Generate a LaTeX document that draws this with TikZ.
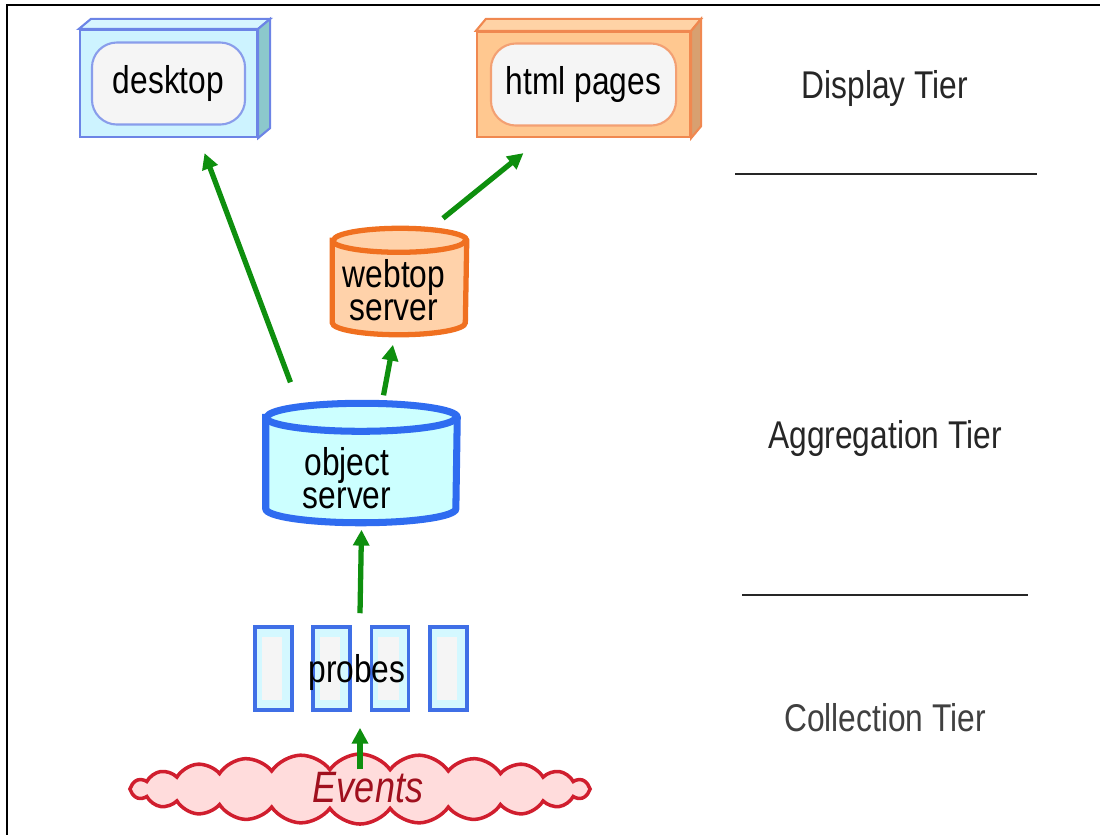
\documentclass[tikz,border=0pt]{standalone}
\usepackage{fontspec}
\setmainfont{Liberation Sans}[FakeStretch=0.82]
\usepackage{tikz}
\usetikzlibrary{shapes.geometric, shapes.symbols, arrows.meta, positioning, calc}

\definecolor{deskfront}{HTML}{CDF3FF}
\definecolor{deskline}{HTML}{6C84E6}
\definecolor{deskside}{HTML}{8CC8CC}
\definecolor{htmlfront}{HTML}{FFC890}
\definecolor{htmlline}{HTML}{F08850}
\definecolor{htmlside}{HTML}{D8A070}
\definecolor{webfill}{HTML}{FFD2AA}
\definecolor{webline}{HTML}{F07020}
\definecolor{objfill}{HTML}{CCFFFF}
\definecolor{objline}{HTML}{2F6CF0}
\definecolor{probefill}{HTML}{D4F8FF}
\definecolor{probeline}{HTML}{3F6FE6}
\definecolor{cloudfill}{HTML}{FFDCDC}
\definecolor{cloudline}{HTML}{D01E2E}
\definecolor{eventtext}{HTML}{A0101E}
\definecolor{flowgreen}{HTML}{0E8F0E}

\tikzstyle{frontbox} = [rectangle, line width=0.6pt, inner sep=0pt]
\tikzstyle{innerbox} = [rectangle, rounded corners=2.5mm, fill=black!4,
  line width=0.6pt, font=\fontsize{11}{13}\selectfont]
\tikzstyle{dbbody} = [rectangle, inner sep=0pt]
\tikzstyle{dblabel} = [align=center, inner sep=0pt, font=\fontsize{11}{9.5}\selectfont]
\tikzstyle{probebox} = [rectangle, draw=probeline, fill=probefill, line width=1pt,
  minimum width=0.37cm, minimum height=0.83cm, inner sep=0pt,
  path picture={\fill[black!4] ([shift={(0.07cm,0.1cm)}]path picture bounding box.south west)
    rectangle ([shift={(-0.1cm,-0.1cm)}]path picture bounding box.north east);}]
\tikzstyle{flow} = [-{Triangle[length=4.5pt, width=4.5pt]}, line width=1.5pt, flowgreen]
\tikzstyle{tierline} = [line width=0.6pt, black!85]
\tikzstyle{tierlabel} = [font=\fontsize{11}{13}\selectfont, text=black!85]

\begin{document}
\begin{tikzpicture}[x=0.01cm, y=-0.01cm]
  \useasboundingbox (0,0) rectangle (1100,835);

  % Frame
  \draw[line width=0.7pt] (1100,5) -- (7,5) -- (7,835);

  % Display boxes
  \node[frontbox, fill=deskfront, draw=deskline, minimum width=1.77cm, minimum height=1.07cm]
    (desk) at (168.5,83.5) {};
  \filldraw[fill=deskfront!80, draw=deskline, line width=0.6pt]
    (desk.north west) -- ++(12,-10) -- ([shift={(12,-10)}]desk.north east) -- (desk.north east) -- cycle;
  \filldraw[fill=deskside, draw=deskline, line width=0.6pt]
    (desk.north east) -- ++(12,-10) -- ([shift={(12,-10)}]desk.south east) -- (desk.south east) -- cycle;
  \node[innerbox, draw=deskline!80, minimum width=1.53cm, minimum height=0.82cm]
    (desktop) at (desk.center) {desktop};

  \node[frontbox, fill=htmlfront, draw=htmlline, minimum width=2.13cm, minimum height=1.05cm]
    (html) at (583.5,84.5) {};
  \filldraw[fill=htmlfront!80, draw=htmlline, line width=0.6pt]
    (html.north west) -- ++(10,-12) -- ([shift={(10,-12)}]html.north east) -- (html.north east) -- cycle;
  \filldraw[fill=htmlside, draw=htmlline, line width=0.6pt]
    (html.north east) -- ++(10,-12) -- ([shift={(10,-12)}]html.south east) -- (html.south east) -- cycle;
  \node[innerbox, draw=htmlline!80, minimum width=1.85cm, minimum height=0.82cm]
    (pages) at (html.center) {html pages};

  % Servers
  \node[dbbody, minimum width=1.33cm, minimum height=1.05cm] (web) at (399.5,281.5) {};
  \filldraw[fill=webfill, draw=webline, line width=1.5pt]
    ([yshift=-0.12cm]web.north west) -- ([yshift=0.12cm]web.south west)
    arc[start angle=180, end angle=360, x radius=0.665cm, y radius=0.12cm]
    -- ([yshift=-0.12cm]web.north east)
    arc[start angle=0, end angle=180, x radius=0.665cm, y radius=0.12cm] -- cycle;
  \draw[webline, line width=1.5pt] ([yshift=-0.12cm]web.north west)
    arc[start angle=180, end angle=360, x radius=0.665cm, y radius=0.12cm];
  \node[dblabel] (weblabel) at (394,290) {webtop\\server};

  \node[dbbody, minimum width=1.9cm, minimum height=1.18cm] (obj) at (361.5,463) {};
  \filldraw[fill=objfill, draw=objline, line width=2pt]
    ([yshift=-0.14cm]obj.north west) -- ([yshift=0.14cm]obj.south west)
    arc[start angle=180, end angle=360, x radius=0.95cm, y radius=0.14cm]
    -- ([yshift=-0.14cm]obj.north east)
    arc[start angle=0, end angle=180, x radius=0.95cm, y radius=0.14cm] -- cycle;
  \draw[objline, line width=2pt] ([yshift=-0.14cm]obj.north west)
    arc[start angle=180, end angle=360, x radius=0.95cm, y radius=0.14cm];
  \node[dblabel] (objlabel) at (347,478) {object\\server};

  % Probes
  \foreach \px [count=\i] in {273.5, 331.5, 390, 448.5}
    \node[probebox] (p\i) at (\px,668.5) {};
  \node[minimum width=2.12cm, minimum height=0.83cm, inner sep=0pt,
    font=\fontsize{11}{13}\selectfont] (probes) at (357,672) {probes};

  % Events
  \node[cloud, cloud puffs=24, cloud puff arc=110, aspect=6.5, draw=cloudline,
    fill=cloudfill, line width=1pt, minimum width=4.6cm, minimum height=0.7cm,
    inner sep=0pt] (ev) at (360,789) {};
  \node[font=\fontsize{12.5}{14}\selectfont\itshape, text=eventtext] (evlabel) at (368,788) {Events};

  % Flows
  \draw[flow] ([yshift=-0.17cm]ev.north) -- ([yshift=-0.16cm]p2.south -| ev.north);
  \draw[flow] ([yshift=0.12cm]p2.north -| ev.north) -- ([yshift=-0.07cm]obj.south);
  \draw[flow] ([xshift=0.22cm, yshift=0.08cm]obj.north) -- ([xshift=-0.065cm, yshift=-0.1cm]web.south);
  \draw[flow] ([xshift=-0.71cm, yshift=0.21cm]obj.north) -- ([xshift=0.36cm, yshift=-0.15cm]desk.south);
  \draw[flow] ([xshift=0.435cm, yshift=0.1cm]web.north) -- ([xshift=-0.6cm, yshift=-0.15cm]html.south);

  % Tiers
  \node[tierlabel] (display) at (885,88) {Display Tier};
  \node[tierlabel] (aggr) at (885,438) {Aggregation Tier};
  \node[tierlabel, text=black!75] (coll) at (885,718) {Collection Tier};
  \draw[tierline] (735,174) -- (1037,174);
  \draw[tierline] (742,595) -- (1028,595);

\end{tikzpicture}
\end{document}
